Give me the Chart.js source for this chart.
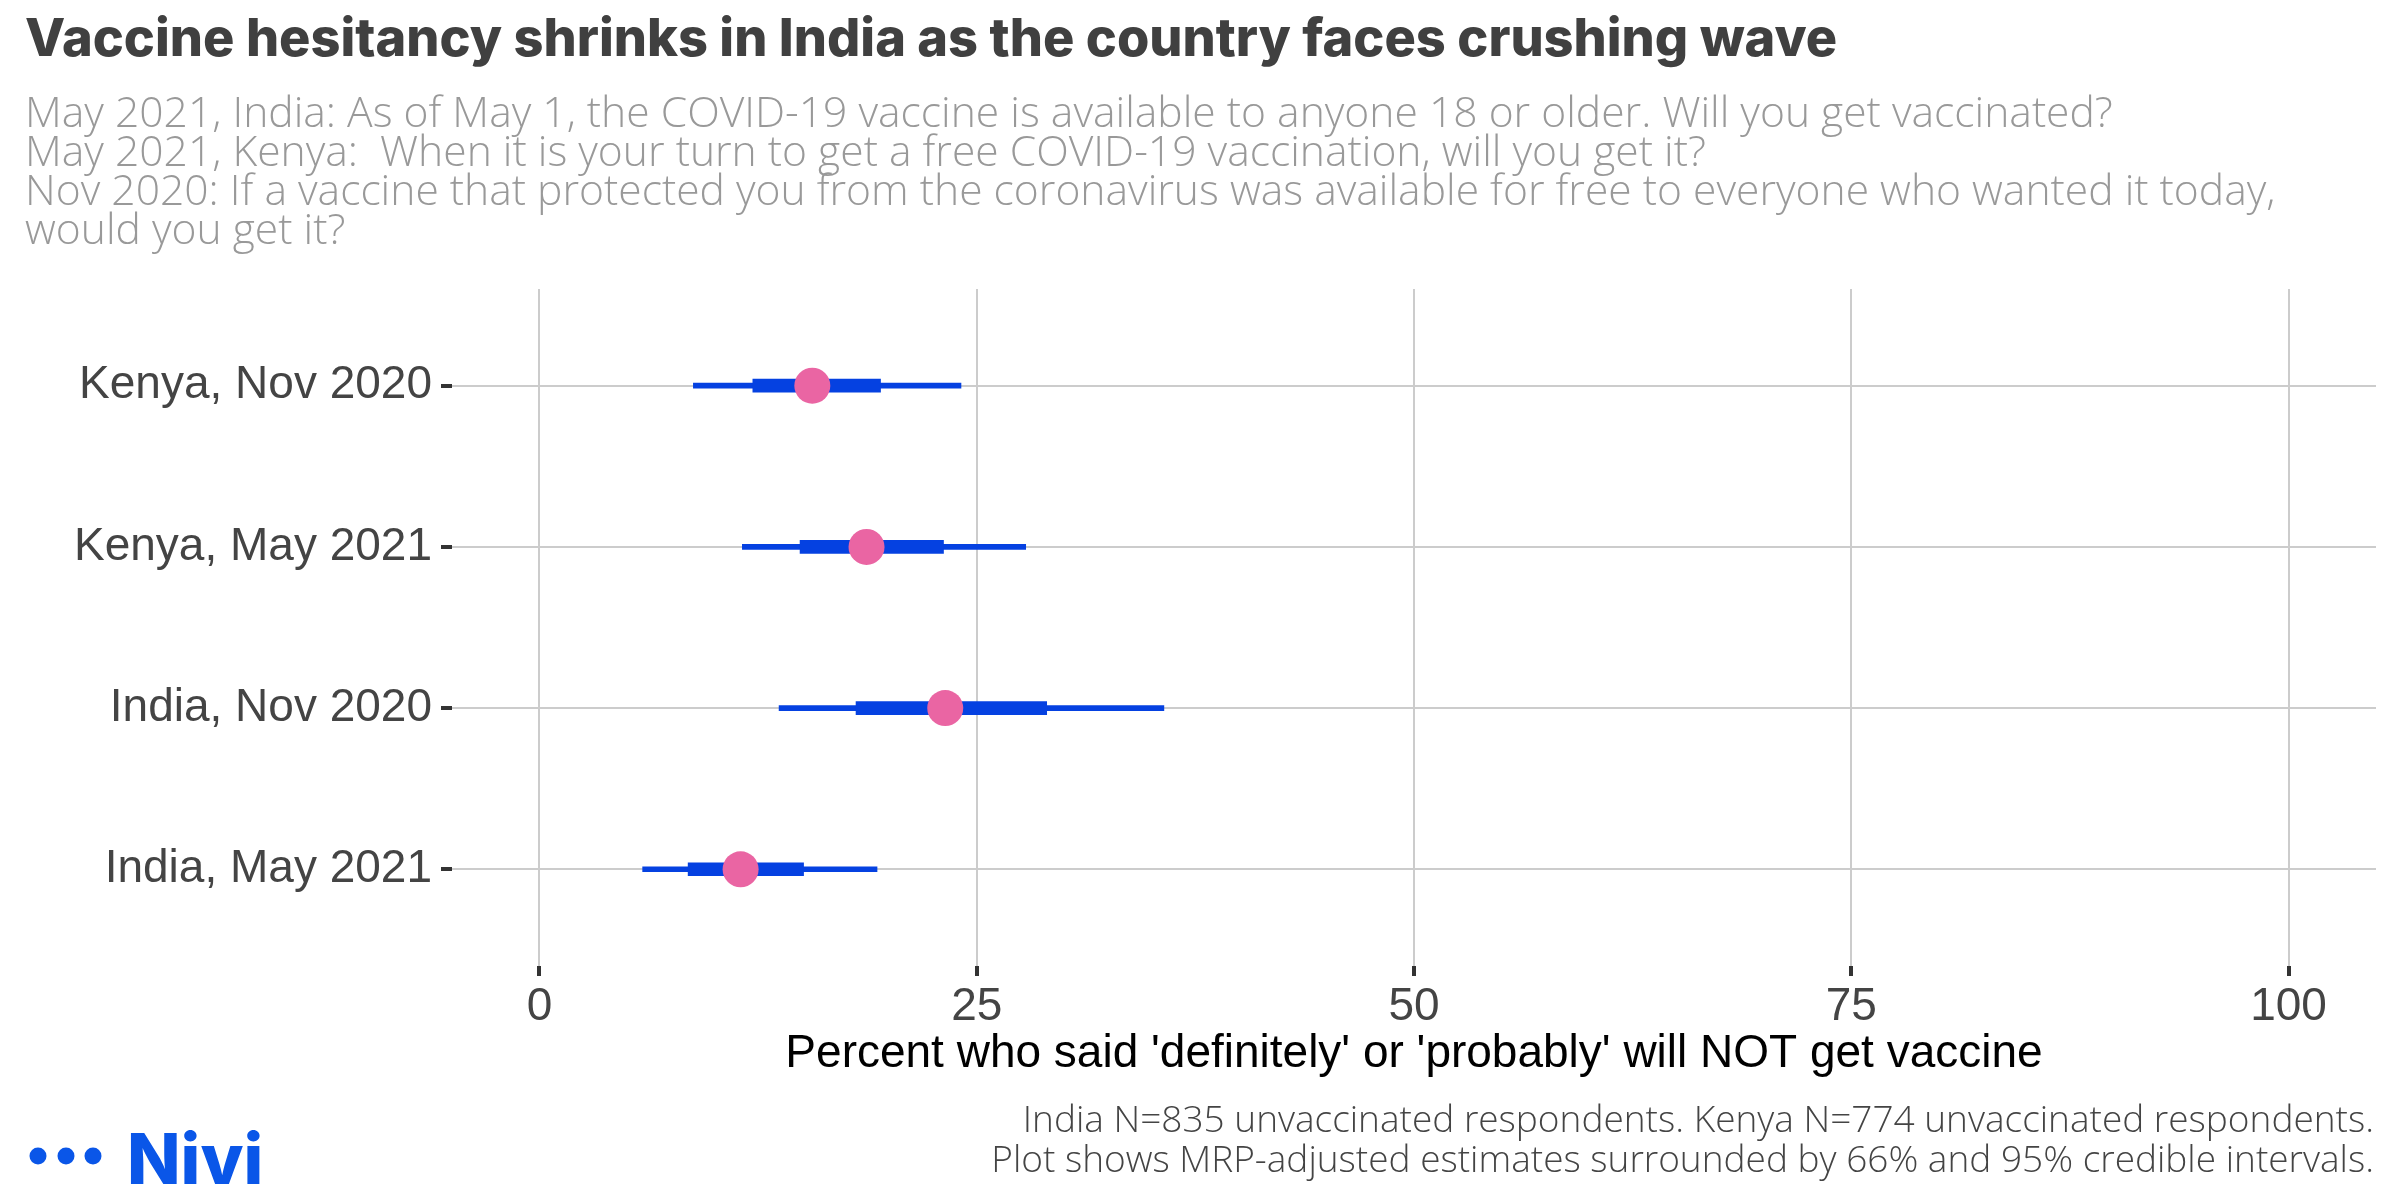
<!DOCTYPE html>
<html lang="en">
<head>
<meta charset="UTF-8">
<title>Vaccine hesitancy</title>
<script src="https://cdn.jsdelivr.net/npm/chart.js"></script>
<style>
  body { margin: 0; background: #fff; }
  #wrap { width: 2400px; height: 1200px; }
</style>
</head>
<body>
<div id="wrap"><canvas id="chart"></canvas></div>
<script>
// rows, top to bottom
var categories = ['Kenya, Nov 2020', 'Kenya, May 2021', 'India, Nov 2020', 'India, May 2021'];
var estimate = [15.6, 18.7, 23.2, 11.5];
var low66 = [12.2, 14.9, 18.1, 8.5];
var high66 = [19.5, 23.1, 29.0, 15.1];
var low95 = [8.8, 11.6, 13.7, 5.9];
var high95 = [24.1, 27.8, 35.7, 19.3];
var xTicks = [0, 25, 50, 75, 100];

var subtitleLines = [
  'May 2021, India: As of May 1, the COVID-19 vaccine is available to anyone 18 or older. Will you get vaccinated?',
  'May 2021, Kenya:  When it is your turn to get a free COVID-19 vaccination, will you get it?',
  'Nov 2020: If a vaccine that protected you from the coronavirus was available for free to everyone who wanted it today,',
  'would you get it?'
];
var captionLines = [
  'India N=835 unvaccinated respondents. Kenya N=774 unvaccinated respondents.',
  'Plot shows MRP-adjusted estimates surrounded by 66% and 95% credible intervals.'
];

var blue = '#0541e1';
var pink = '#ea65a3';

// caption and logo at the bottom
var footer = {
  id: 'footer',
  afterDraw: function(chart) {
    var ctx = chart.ctx;
    ctx.save();
    ctx.fillStyle = '#444444';
    ctx.font = '300 37px "Open Sans"';
    ctx.textAlign = 'right';
    ctx.textBaseline = 'alphabetic';
    ctx.fillText(captionLines[0], 2374, 1132);
    ctx.fillText(captionLines[1], 2374, 1172);

    ctx.fillStyle = '#0a56e8';
    [38, 66, 93].forEach(function(cx) {
      ctx.beginPath();
      ctx.arc(cx, 1156, 8.5, 0, Math.PI * 2);
      ctx.fill();
    });
    ctx.textAlign = 'left';
    ctx.font = '800 70px Inter';
    ctx.fillText('Nivi', 127, 1184);
    ctx.restore();
  }
};

var ctx = document.getElementById('chart').getContext('2d');
new Chart(ctx, {
  type: 'bar',
  data: {
    datasets: [
      {
        type: 'scatter',
        data: estimate.map(function(v, i) { return {x: v, y: i}; }),
        pointRadius: 18,
        pointBackgroundColor: pink,
        pointBorderWidth: 0,
        order: 1
      },
      {
        indexAxis: 'y',
        data: low66.map(function(v, i) { return {x: [v, high66[i]], y: i}; }),
        backgroundColor: blue,
        barThickness: 13,
        grouped: false,
        borderWidth: 0,
        order: 2
      },
      {
        indexAxis: 'y',
        data: low95.map(function(v, i) { return {x: [v, high95[i]], y: i}; }),
        backgroundColor: blue,
        barThickness: 5,
        grouped: false,
        borderWidth: 0,
        order: 3
      }
    ]
  },
  options: {
    responsive: true,
    maintainAspectRatio: false,
    animation: false,
    layout: { padding: { top: 0, left: 25, right: 24, bottom: 118 } },
    plugins: {
      legend: { display: false },
      tooltip: { enabled: false },
      title: {
        display: true,
        text: 'Vaccine hesitancy shrinks in India as the country faces crushing wave',
        align: 'start',
        color: '#404040',
        font: { family: 'Inter', weight: '800', size: 52.3, lineHeight: 1.2 },
        padding: { top: 9, bottom: 0 }
      },
      subtitle: {
        display: true,
        text: subtitleLines,
        align: 'start',
        color: '#999999',
        font: { family: 'Open Sans', weight: '300', size: 42.6, lineHeight: 0.9225 },
        padding: { top: 23, bottom: 37 }
      }
    },
    scales: {
      x: {
        type: 'linear',
        offset: false,
        min: -5,
        max: 105,
        afterBuildTicks: function(s) { s.ticks = xTicks.map(function(v) { return {value: v}; }); },
        afterFit: function(s) { s.height = 116; },
        grid: { offset: false, color: '#cccccc', lineWidth: 2, tickColor: '#333333', tickWidth: 4, tickLength: 10 },
        border: { display: false },
        ticks: { color: '#444444', font: { family: 'Liberation Sans', size: 46 }, padding: 4, maxRotation: 0 },
        title: {
          display: true,
          text: "Percent who said 'definitely' or 'probably' will NOT get vaccine",
          color: '#000000',
          font: { family: 'Liberation Sans', size: 46 },
          padding: 0
        }
      },
      y: {
        type: 'linear',
        offset: false,
        min: -0.6,
        max: 3.6,
        reverse: true,
        afterBuildTicks: function(s) { s.ticks = categories.map(function(c, i) { return {value: i}; }); },
        afterFit: function(s) { s.width = 427; },
        grid: { offset: false, color: '#cccccc', lineWidth: 2, tickColor: '#333333', tickWidth: 4, tickLength: 11 },
        border: { display: false },
        ticks: {
          color: '#444444',
          font: { family: 'Liberation Sans', size: 46 },
          padding: 9,
          callback: function(v) { return categories[v]; }
        }
      }
    }
  },
  plugins: [footer]
});
</script>
</body>
</html>
